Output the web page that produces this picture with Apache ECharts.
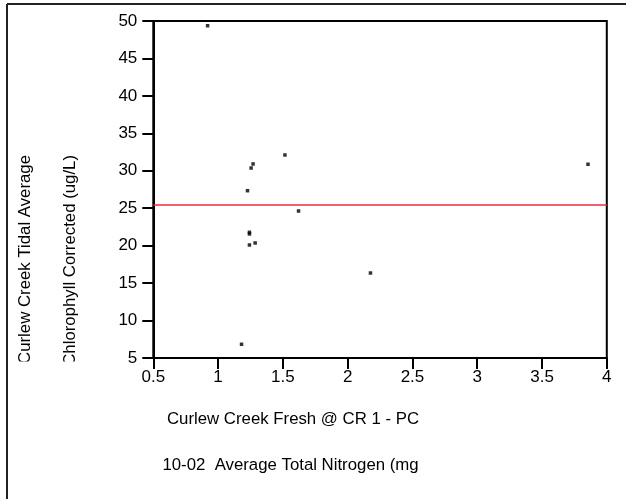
<!DOCTYPE html>
<html>
<head>
<meta charset="utf-8">
<script src="https://cdn.jsdelivr.net/npm/echarts@6/dist/echarts.min.js"></script>
<style>
html,body{margin:0;padding:0;background:#fff;}
#c{width:626px;height:499px;}
</style>
</head>
<body>
<div id="c"></div>
<script>
// Data
var nitrogen = [0.919, 1.516, 1.270, 1.255, 1.227, 1.621, 1.242, 1.242, 1.242, 1.286, 2.176, 1.181, 3.855];
var chlorophyll = [49.37, 32.11, 30.91, 30.37, 27.34, 24.63, 21.79, 21.56, 20.09, 20.36, 16.35, 6.83, 30.87];
var meanLine = 25.5;
var xTicks = [0.5, 1, 1.5, 2, 2.5, 3, 3.5, 4];
var yTicks = [5, 10, 15, 20, 25, 30, 35, 40, 45, 50];
var yTitleLines = ['Curlew Creek Tidal Average', 'Chlorophyll Corrected (ug/L)'];
var xTitleLines = ['Curlew Creek Fresh @ CR 1 - PC', '10-02  Average Total Nitrogen (mg'];

var points = nitrogen.map(function (v, i) { return [v, chlorophyll[i]]; });
var FONT = 'Liberation Sans, Arial, sans-serif';

var chart = echarts.init(document.getElementById('c'), null, {renderer: 'canvas'});
chart.setOption({
  animation: false,
  backgroundColor: '#fff',
  grid: {
    left: 153.3, right: 19.2, top: 21, bottom: 141,
    show: true, borderColor: '#000', borderWidth: 2, backgroundColor: 'transparent'
  },
  xAxis: {
    type: 'value', min: xTicks[0], max: xTicks[xTicks.length - 1], interval: 0.5,
    axisLine: {show: true, onZero: false, lineStyle: {color: '#000', width: 2}},
    axisTick: {show: true, inside: false, length: 11, lineStyle: {color: '#000', width: 2}},
    axisLabel: {color: '#000', fontSize: 17, fontFamily: FONT, margin: 11, showMinLabel: true, showMaxLabel: true},
    splitLine: {show: false}
  },
  yAxis: {
    type: 'value', min: yTicks[0], max: yTicks[yTicks.length - 1], interval: 5,
    axisLine: {show: true, onZero: false, lineStyle: {color: '#000', width: 2}},
    axisTick: {show: true, inside: false, length: 11, lineStyle: {color: '#000', width: 2}},
    axisLabel: {color: '#000', fontSize: 17, fontFamily: FONT, margin: 16, showMinLabel: true, showMaxLabel: true},
    splitLine: {show: false}
  },
  series: [{
    type: 'scatter',
    data: points,
    symbol: 'rect',
    symbolSize: 3.5,
    itemStyle: {color: '#000'},
    markLine: {
      silent: true,
      symbol: ['none', 'none'],
      label: {show: false},
      lineStyle: {color: '#ee2a3c', width: 1.5, type: 'solid'},
      data: [{yAxis: meanLine}]
    }
  }],
  graphic: [
    {type: 'line', shape: {x1: 7, y1: 4, x2: 626, y2: 4}, style: {stroke: '#222', lineWidth: 2}, z: 10},
    {type: 'line', shape: {x1: 7, y1: 4, x2: 7, y2: 499}, style: {stroke: '#222', lineWidth: 2}, z: 10},
    {type: 'text', x: 25, y: 155, rotation: Math.PI / 2,
      style: {text: yTitleLines[0], fill: '#000', font: '16.8px ' + FONT, textAlign: 'right', textVerticalAlign: 'middle'}, z: 5},
    {type: 'text', x: 70.5, y: 155, rotation: Math.PI / 2,
      style: {text: yTitleLines[1], fill: '#000', font: '16.8px ' + FONT, textAlign: 'right', textVerticalAlign: 'middle'}, z: 5},
    {type: 'rect', shape: {x: 9, y: 361.5, width: 90, height: 40}, style: {fill: '#fff'}, z: 6},
    {type: 'text', x: 293, y: 419.5,
      style: {text: xTitleLines[0], fill: '#000', font: '16.8px ' + FONT, textAlign: 'center', textVerticalAlign: 'middle'}, z: 5},
    {type: 'text', x: 290.5, y: 465,
      style: {text: xTitleLines[1], fill: '#000', font: '16.8px ' + FONT, textAlign: 'center', textVerticalAlign: 'middle'}, z: 5}
  ]
});
</script>
</body>
</html>
